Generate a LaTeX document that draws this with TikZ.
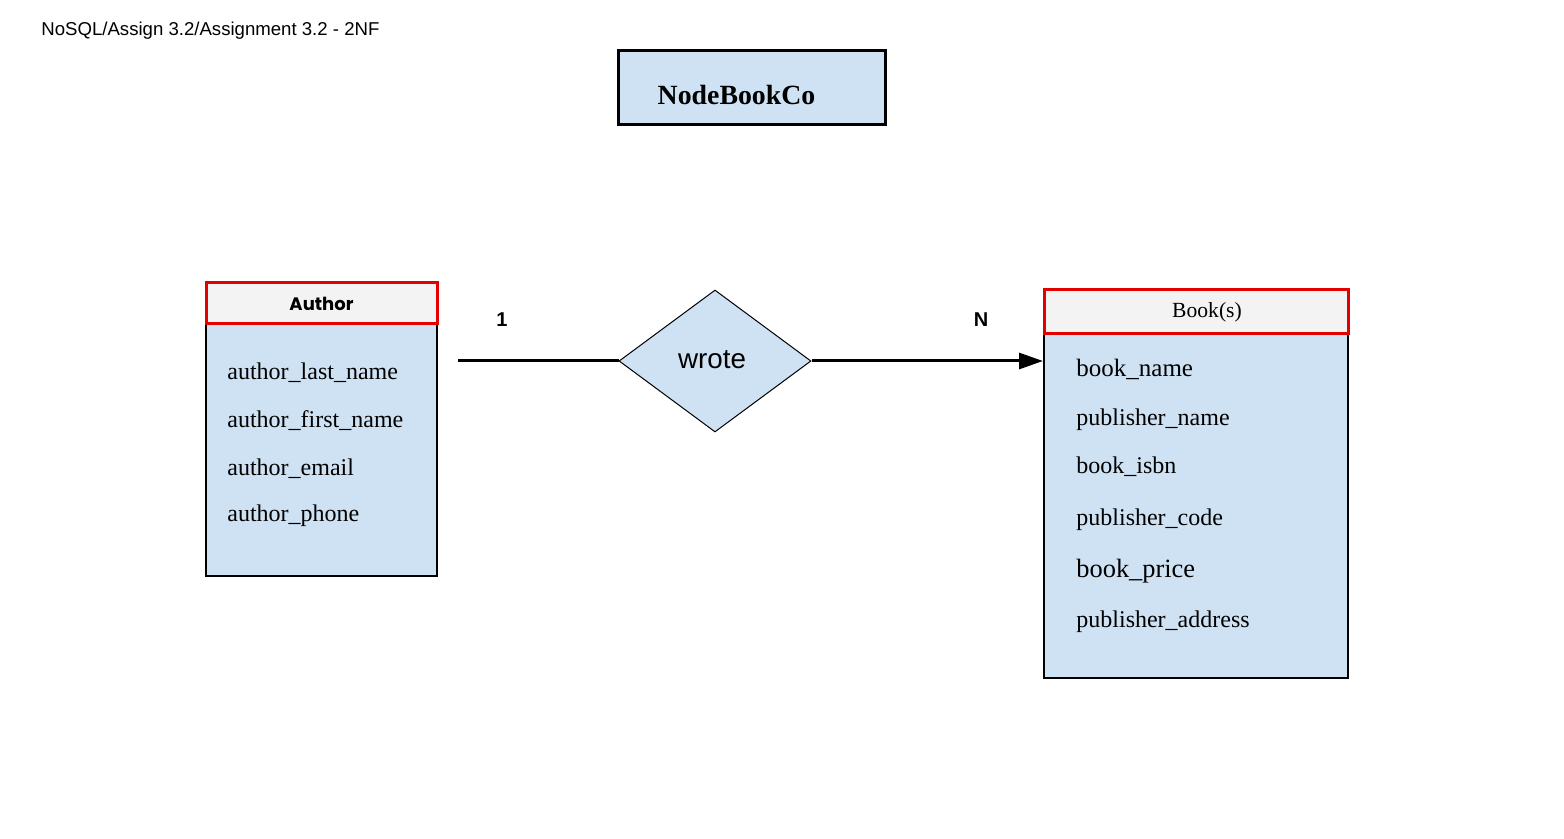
\documentclass[tikz,border=0pt]{standalone}
\usepackage{fontspec}
\setmainfont{Liberation Serif}
\newfontfamily\arialfont{Liberation Sans}
\newfontfamily\headfont{Poppins}
\usetikzlibrary{arrows.meta,shapes.geometric}
\definecolor{erblue}{HTML}{CFE2F3}
\definecolor{ergrey}{HTML}{F3F3F3}
\definecolor{erred}{HTML}{E40000}
\begin{document}
\begin{tikzpicture}[x=0.5pt,y=-0.5pt,
	entbody/.style={draw=black, line width=1pt, fill=erblue, inner sep=0pt},
	enthead/.style={draw=erred, line width=1.5pt, fill=ergrey, inner sep=0pt},
	attr/.style={anchor=base west, inner sep=0pt, font=\fontsize{12}{14}\selectfont},
	card/.style={font=\arialfont\bfseries\fontsize{10}{12}\selectfont},
	conn/.style={line width=1.5pt}]
		
		\useasboundingbox (0,0) rectangle (1564,839);
		\node[anchor=base west, inner sep=0pt, font=\arialfont\fontsize{9.3}{11}\selectfont] (path) at (41,36) {NoSQL/Assign 3.2/Assignment 3.2 - 2NF};
		
		\node[draw=black, line width=1.5pt, fill=erblue, minimum width=133.5pt, minimum height=37pt] (titlebox) at (751.5,88) {};
		\node[font=\bfseries\fontsize{13.9}{16}\selectfont] (title) at (736.5,95) {NodeBookCo};
		
		% Author entity
		\node[entbody, minimum width=115.5pt, minimum height=126pt] (authorbody) at (321.5,450) {};
		\node[enthead, minimum width=115.5pt, minimum height=20.5pt, font=\headfont\bfseries\fontsize{9}{11}\selectfont] (authorhead) at (321.5,303.5) {Author};
		\node[attr] (alast) at (227,380) {author\_last\_name};
		\node[attr] (afirst) at (227,428) {author\_first\_name};
		\node[attr] (aemail) at (227,476) {author\_email};
		\node[attr] (aphone) at (227,522) {author\_phone};
		
		% Book entity
		\node[entbody, minimum width=152pt, minimum height=172pt] (bookbody) at (1196,506) {};
		\node[enthead, minimum width=152pt, minimum height=22pt, font=\fontsize{10.8}{12}\selectfont] (bookhead) at (1196,312) {\hspace*{11pt}Book(s)};
		\node[attr, font=\fontsize{12.5}{14}\selectfont] (bname) at (1076,377) {book\_name};
		\node[attr] (pname) at (1076,426) {publisher\_name};
		\node[attr] (bisbn) at (1076,474) {book\_isbn};
		\node[attr] (pcode) at (1076,525) {publisher\_code};
		\node[attr, font=\fontsize{13.2}{15}\selectfont] (bprice) at (1076,577) {book\_price};
		\node[attr] (paddr) at (1076,627) {publisher\_address};
		
		% relationship
		\node[diamond, draw=black, line width=0.5pt, fill=erblue, minimum width=96pt, minimum height=71pt, inner sep=0pt] (wrote) at (715,361) {};
		\node[font=\arialfont\fontsize{13.9}{16}\selectfont] (wrotetxt) at (712,360) {wrote};
		\coordinate (lstart) at (458,361);
		\draw[conn] (lstart) -- (wrote.west);
		\draw[conn, -{Triangle[length=12pt, width=8pt]}] (wrote.east) -- (wrote.east -| bookbody.west);
		\node[card] (one) at (502,320) {1};
		\node[card] (many) at (981,320) {N};
		
	\end{tikzpicture}
\end{document}
